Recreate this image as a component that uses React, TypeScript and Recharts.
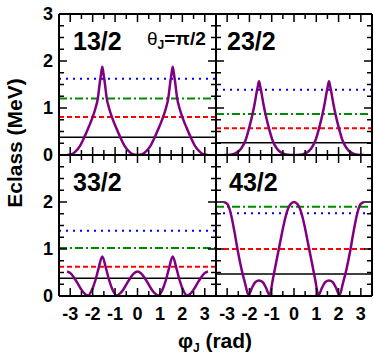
import { LineChart, Line, XAxis, YAxis, ReferenceLine } from 'recharts'

const FONT = '"Liberation Sans", Arial, Helvetica, sans-serif'

// one entry per panel: 13/2, 23/2, 33/2, 43/2
const panelLabels = ['13/2', '23/2', '33/2', '43/2']
const solidLevel = [0.38, 0.26, 0.38, 0.47]
const dashedLevel = [0.81, 0.57, 0.62, 1.0]
const dashDotLevel = [1.2, 0.87, 1.02, 1.9]
const dottedLevel = [1.62, 1.39, 1.39, 1.76]

// phi grid, denser around the sharp peaks at +-pi/2
const phiPeaked = [
  -3.14, -2.97, -2.77, -2.57, -2.37, -2.17, -2.02, -1.87, -1.77, -1.67, -1.62, -1.57, -1.52, -1.47, -1.37,
  -1.27, -1.12, -0.97, -0.77, -0.57, -0.37, -0.17, 0, 0.17, 0.37, 0.57, 0.77, 0.97, 1.12, 1.27, 1.37, 1.47,
  1.52, 1.57, 1.62, 1.67, 1.77, 1.87, 2.02, 2.17, 2.37, 2.57, 2.77, 2.97, 3.14,
]
const phiSmooth = [
  -3.14, -2.98, -2.83, -2.67, -2.51, -2.36, -2.2, -2.04, -1.88, -1.73, -1.57, -1.41, -1.26, -1.1, -0.94,
  -0.79, -0.63, -0.47, -0.31, -0.16, 0, 0.16, 0.31, 0.47, 0.63, 0.79, 0.94, 1.1, 1.26, 1.41, 1.57, 1.73,
  1.88, 2.04, 2.2, 2.36, 2.51, 2.67, 2.83, 2.98, 3.14,
]

const e13 = [
  0, 0.01, 0.07, 0.19, 0.38, 0.6, 0.78, 1.0, 1.2, 1.58, 1.74, 1.88, 1.74, 1.58, 1.2, 1.0, 0.78, 0.6, 0.38,
  0.19, 0.07, 0.01, 0, 0.01, 0.07, 0.19, 0.38, 0.6, 0.78, 1.0, 1.2, 1.58, 1.74, 1.88, 1.74, 1.58, 1.2, 1.0,
  0.78, 0.6, 0.38, 0.19, 0.07, 0.01, 0,
]
const e23 = [
  0, 0, 0.01, 0.05, 0.14, 0.32, 0.56, 0.85, 1.08, 1.35, 1.47, 1.57, 1.47, 1.35, 1.08, 0.85, 0.56, 0.32, 0.14,
  0.05, 0.01, 0, 0, 0, 0.01, 0.05, 0.14, 0.32, 0.56, 0.85, 1.08, 1.35, 1.47, 1.57, 1.47, 1.35, 1.08, 0.85,
  0.56, 0.32, 0.14, 0.05, 0.01, 0, 0,
]
const e33 = [
  0.52, 0.48, 0.39, 0.27, 0.14, 0.05, 0.01, 0.12, 0.33, 0.6, 0.84, 0.6, 0.33, 0.12, 0.01, 0.05, 0.14, 0.27,
  0.39, 0.48, 0.52, 0.48, 0.39, 0.27, 0.14, 0.05, 0.01, 0.12, 0.33, 0.6, 0.84, 0.6, 0.33, 0.12, 0.01, 0.05,
  0.14, 0.27, 0.39, 0.48, 0.52,
]
const e43 = [
  2.0, 1.95, 1.74, 1.36, 0.93, 0.58, 0.28, 0.02, 0.18, 0.3, 0.33, 0.3, 0.18, 0.02, 0.38, 0.74, 1.12, 1.5,
  1.8, 1.95, 2.0, 1.95, 1.8, 1.5, 1.12, 0.74, 0.38, 0.02, 0.18, 0.3, 0.33, 0.3, 0.18, 0.02, 0.28, 0.58, 0.93,
  1.36, 1.74, 1.95, 2.0,
]

const xTicks = [-3, -2.5, -2, -1.5, -1, -0.5, 0, 0.5, 1, 1.5, 2, 2.5, 3]
const yTicks = [0, 0.25, 0.5, 0.75, 1, 1.25, 1.5, 1.75, 2, 2.25, 2.5, 2.75, 3]
const yLabelsTop = [0, 1, 2, 3]
const yLabelsBottom = [0, 1, 2]

const panelData = [
  phiPeaked.map((phi, i) => ({ phi, e: e13[i] })),
  phiPeaked.map((phi, i) => ({ phi, e: e23[i] })),
  phiSmooth.map((phi, i) => ({ phi, e: e33[i] })),
  phiSmooth.map((phi, i) => ({ phi, e: e43[i] })),
]

// outer space around each plot box (axis bands are 1px, taken from these)
const ML = 50, MR = 4, MT = 14, MB = 32

// inward ticks drawn by hand, labels only where asked
function makeTick(side: 'bottom' | 'top' | 'left' | 'right', labels: number[]) {
  return (p: any) => {
    const v = p.payload.value
    const len = Number.isInteger(v) ? 8 : 5
    const { x, y } = p
    let line
    if (side === 'bottom') line = <line x1={x} x2={x} y1={y} y2={y - len} stroke="#000" strokeWidth={1.5} />
    else if (side === 'top') line = <line x1={x} x2={x} y1={y} y2={y + len} stroke="#000" strokeWidth={1.5} />
    else if (side === 'left') line = <line x1={x} x2={x + len} y1={y} y2={y} stroke="#000" strokeWidth={1.5} />
    else line = <line x1={x} x2={x - len} y1={y} y2={y} stroke="#000" strokeWidth={1.5} />
    const show = labels.includes(v)
    return (
      <g>
        {line}
        {show && side === 'bottom' && (
          <text x={x} y={y + 24} textAnchor="middle" fontSize={18} fontWeight="bold" fontFamily={FONT} fill="#000">{v}</text>
        )}
        {show && side === 'left' && (
          <text x={x - 6} y={y} dy="0.36em" textAnchor="end" fontSize={18} fontWeight="bold" fontFamily={FONT} fill="#000">{v}</text>
        )}
      </g>
    )
  }
}

function Panel({ i }: { i: number }) {
  const col = i % 2
  const row = Math.floor(i / 2)
  const left = col ? 216 : 59
  const w = col ? 156 : 157
  const top = 14 + row * 141
  const h = 141
  const frame = { stroke: '#000', strokeWidth: 2 }
  const yLabels = col === 0 ? (row === 0 ? yLabelsTop : yLabelsBottom) : []
  const xLabels = row === 1 ? [-3, -2, -1, 0, 1, 2, 3] : []
  return (
    <div style={{ position: 'absolute', left: left - ML, top: top - MT }}>
      <LineChart width={w + ML + MR} height={h + MT + MB} data={panelData[i]}
        margin={{ top: MT - 1, right: MR - 1, bottom: MB - 1, left: ML - 1 }}>
        <XAxis dataKey="phi" type="number" domain={[-3.5, 3.5]} ticks={xTicks} interval={0} height={1}
          tickSize={0} tickMargin={0} tickLine={false} axisLine={frame} tick={makeTick('bottom', xLabels)} allowDataOverflow />
        <XAxis xAxisId="t" orientation="top" dataKey="phi" type="number" domain={[-3.5, 3.5]} ticks={xTicks} interval={0}
          height={1} tickSize={0} tickMargin={0} tickLine={false} axisLine={frame} tick={makeTick('top', [])} allowDataOverflow />
        <YAxis type="number" domain={[0, 3]} ticks={yTicks} interval={0} width={1} tickSize={0} tickMargin={0}
          tickLine={false} axisLine={frame} tick={makeTick('left', yLabels)} allowDataOverflow />
        <YAxis yAxisId="r" orientation="right" type="number" domain={[0, 3]} ticks={yTicks} interval={0} width={1}
          tickSize={0} tickMargin={0} tickLine={false} axisLine={frame} tick={makeTick('right', [])} allowDataOverflow />
        <ReferenceLine y={solidLevel[i]} stroke="#000" strokeWidth={1.5} />
        <ReferenceLine y={dashedLevel[i]} stroke="#ff0000" strokeWidth={2} strokeDasharray="5 3" />
        <ReferenceLine y={dashDotLevel[i]} stroke="#008a00" strokeWidth={2} strokeDasharray="8 3 2 3" />
        <ReferenceLine y={dottedLevel[i]} stroke="#0000ff" strokeWidth={2} strokeDasharray="2 5" />
        <Line type="monotone" dataKey="e" stroke="#800080" strokeWidth={2.5} dot={false} isAnimationActive={false} />
      </LineChart>
    </div>
  )
}

export default function App() {
  const txt = { fontFamily: FONT, fontWeight: 'bold' as const, fill: '#000' }
  return (
    <div style={{ position: 'absolute', left: 0, top: 0, width: 374, height: 359, background: '#fff' }}>
      {[0, 1, 2, 3].map(i => <Panel key={i} i={i} />)}
      <svg width={374} height={359} style={{ position: 'absolute', left: 0, top: 0, pointerEvents: 'none' }}>
        <text x={73} y={50} fontSize={25} {...txt}>{panelLabels[0]}</text>
        <text x={227} y={50} fontSize={25} {...txt}>{panelLabels[1]}</text>
        <text x={73} y={191} fontSize={25} {...txt}>{panelLabels[2]}</text>
        <text x={229} y={191} fontSize={25} {...txt}>{panelLabels[3]}</text>
        <text x={147} y={45} fontSize={19} {...txt}>
          <tspan fontWeight="normal">θ</tspan>
          <tspan fontSize={12} dy={4}>J</tspan>
          <tspan dy={-4}>=π/2</tspan>
        </text>
        <text x={22} y={143} fontSize={21} textAnchor="middle" transform="rotate(-90 22 143)" {...txt}>Eclass (MeV)</text>
        <text x={215} y={348} fontSize={21} textAnchor="middle" {...txt}>
          φ<tspan fontSize={12} dy={4}>J</tspan><tspan dy={-4}> (rad)</tspan>
        </text>
      </svg>
    </div>
  )
}
